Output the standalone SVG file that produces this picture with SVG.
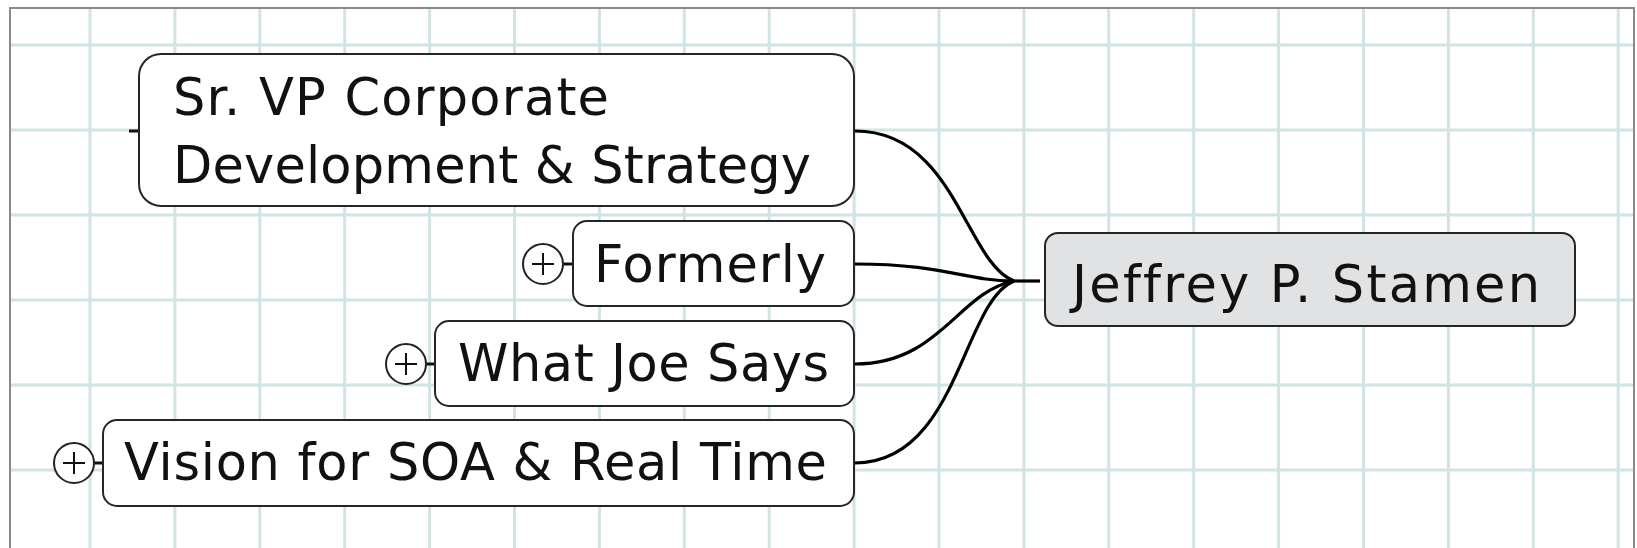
<svg xmlns="http://www.w3.org/2000/svg" width="1637" height="548" viewBox="0 0 1637 548">
<style>
.grid{stroke:#d2e3e3;stroke-width:3;fill:none}
.border{stroke:#8a8a8a;stroke-width:2;fill:none}
.node{fill:#ffffff;stroke:#262626;stroke-width:2}
.root{fill:#e1e2e4;stroke:#262626;stroke-width:2}
.lbl{font-family:"DejaVu Sans",Verdana,sans-serif;font-size:51px;fill:#111;font-variant-ligatures:none}
.conn{stroke:#000;stroke-width:3.2;fill:none}
.stub{stroke:#111;stroke-width:3}
.plus{fill:#fff;stroke:#222;stroke-width:2}
.pl{stroke:#111;stroke-width:2}
</style>
<rect width="1637" height="548" fill="#ffffff"/>
<g id="grid">
<path class="grid" d="M90,8V548M174.9,8V548M259.8,8V548M344.7,8V548M429.6,8V548M514.5,8V548M599.4,8V548M684.3,8V548M769.2,8V548M854.1,8V548M939,8V548M1023.9,8V548M1108.8,8V548M1193.7,8V548M1278.6,8V548M1363.5,8V548M1448.4,8V548M1533.3,8V548M1618.2,8V548M10,45H1634M10,130H1634M10,215H1634M10,300H1634M10,385H1634M10,470H1634"/>
<path class="border" d="M10,549V8H1634V549"/>
</g>
<g id="connectors">
<path class="conn" d="M855,131 C955,131 965,262 1014,281"/>
<path class="conn" d="M855,264 C945,264 965,281 1014,281"/>
<path class="conn" d="M855,364 C940,364 958,292 1014,281"/>
<path class="conn" d="M855,463 C958,463 962,302 1014,281"/>
<path class="conn" d="M1008,281H1040" stroke-width="4.5"/>
</g>
<g id="node-sr-vp">
<line class="stub" x1="129" y1="131" x2="140" y2="131"/>
<rect class="node" x="139" y="54" width="715" height="152" rx="22"/>
<text class="lbl" x="173" y="115" textLength="436">Sr. VP Corporate</text>
<text class="lbl" x="173" y="183" textLength="638">Development &amp; Strategy</text>
</g>
<g id="node-formerly">
<line class="stub" x1="563" y1="264" x2="574" y2="264"/>
<circle class="plus" cx="543" cy="264" r="20"/>
<path class="pl" d="M532,264H554M543,253V275"/>
<rect class="node" x="573" y="221" width="281" height="85" rx="14"/>
<text class="lbl" x="594" y="282" textLength="232">Formerly</text>
</g>
<g id="node-what-joe-says">
<line class="stub" x1="426" y1="364" x2="436" y2="364"/>
<circle class="plus" cx="406" cy="364" r="20"/>
<path class="pl" d="M395,364H417M406,353V375"/>
<rect class="node" x="435" y="321" width="419" height="85" rx="14"/>
<text class="lbl" x="458" y="381" textLength="371">What Joe Says</text>
</g>
<g id="node-vision">
<line class="stub" x1="94" y1="463" x2="104" y2="463"/>
<circle class="plus" cx="74" cy="463" r="20"/>
<path class="pl" d="M63,463H85M74,452V474"/>
<rect class="node" x="103" y="420" width="751" height="86" rx="14"/>
<text class="lbl" x="124" y="480" textLength="703">Vision for SOA &amp; Real Time</text>
</g>
<g id="node-root">
<rect class="root" x="1045" y="233" width="530" height="93" rx="13"/>
<text class="lbl" x="1072" y="302" textLength="468">Jeffrey P. Stamen</text>
</g>
</svg>
